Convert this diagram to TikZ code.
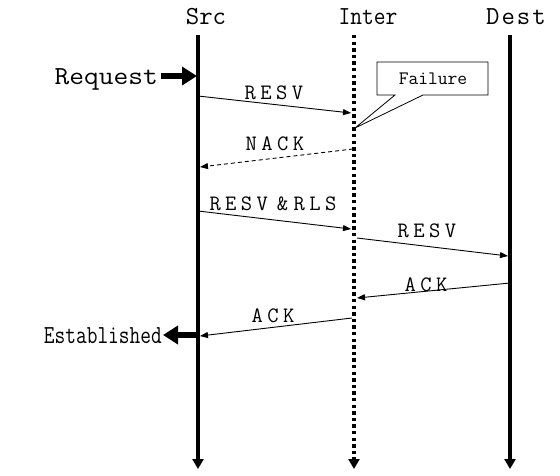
\documentclass[tikz,border=0pt]{standalone}
\usepackage{fontspec}
\usetikzlibrary{arrows.meta}
% small extra space between the letters of message names
\newcommand\lgap{\hspace{0.2em}}
\begin{document}
\begin{tikzpicture}[x=1pt,y=-1pt,
  lifeline/.style={line width=3.5pt,-{Triangle[length=10pt,width=11pt]}},
  dotline/.style={lifeline,dash pattern=on 3.3pt off 3.3pt},
  msg/.style={line width=0.9pt,-{Triangle[length=8pt,width=6pt]}},
  nackmsg/.style={msg,dash pattern=on 4pt off 3pt},
  bigarrow/.style={line width=6.5pt,-{Triangle[length=15pt,width=18pt]}},
  title/.style={anchor=base,inner sep=0pt,font=\ttfamily\fontsize{26}{26}\selectfont},
  msglabel/.style={anchor=base,inner sep=0pt,font=\ttfamily\fontsize{22}{22}\selectfont},
  event/.style={anchor=base east,inner sep=0pt,font=\ttfamily\fontsize{26}{26}\selectfont},
  note/.style={inner sep=0pt,font=\ttfamily\fontsize{19}{19}\selectfont}]
\useasboundingbox (0,0) rectangle (560,475);

% lifeline heads and ends
\node[title] (src) at (206,24) {Src};
\node[title] (inter) at (368,24) {\scalebox{0.88}[1]{Inter}};
\node[title] (dest) at (516,24) {D\hspace{2pt}e\hspace{2pt}s\hspace{2pt}t};
\coordinate (srcTop) at (198,35);   \coordinate (srcEnd) at (198,469);
\coordinate (interTop) at (354,35); \coordinate (interEnd) at (354,469);
\coordinate (destTop) at (510,35);  \coordinate (destEnd) at (510,469);

\draw[lifeline] (srcTop) -- (srcEnd);
\draw[dotline] (interTop) -- (interEnd);
\draw[lifeline] (destTop) -- (destEnd);

% request and establishment events
\node[event] (request) at (158,84) {\scalebox{1.1}[1]{Request}};
\coordinate (reqFrom) at (161,76);
\coordinate (reqTo) at (197,76);
\draw[bigarrow] (reqFrom) -- (reqTo);

\node[event] (established) at (162,343) {\scalebox{0.8}[1]{Established}};
\coordinate (estFrom) at (199,335);
\coordinate (estTo) at (163,335);
\draw[bigarrow] (estFrom) -- (estTo);

% failure note
\draw[line width=0.8pt,fill=white]
  (377,62) -- (488,62) -- (488,95) -- (423,95) -- (355,128)
  -- (395,95) -- (377,95) -- cycle;
\node[note] (failure) at (433,79) {Failure};

% message endpoints
\coordinate (m1a) at (198,96);  \coordinate (m1b) at (351,113);
\coordinate (m2a) at (353,149); \coordinate (m2b) at (200,167);
\coordinate (m3a) at (198,211); \coordinate (m3b) at (351,229);
\coordinate (m4a) at (357,238); \coordinate (m4b) at (508,256);
\coordinate (m5a) at (510,283); \coordinate (m5b) at (357,298);
\coordinate (m6a) at (352,318); \coordinate (m6b) at (200,336);

\draw[msg] (m1a) -- (m1b);
\draw[nackmsg] (m2a) -- (m2b);
\draw[msg] (m3a) -- (m3b);
\draw[msg] (m4a) -- (m4b);
\draw[msg] (m5a) -- (m5b);
\draw[msg] (m6a) -- (m6b);

\node[msglabel] (l1) at (274,99) {R\lgap E\lgap S\lgap V};
\node[msglabel] (l2) at (275,150) {N\lgap A\lgap C\lgap K};
\node[msglabel] (l3) at (273,210) {R\lgap E\lgap S\lgap V\hspace{0.4em}\&\hspace{0.25em}R\lgap L\lgap S};
\node[msglabel] (l4) at (427,237) {R\lgap E\lgap S\lgap V};
\node[msglabel] (l5) at (426,291) {A\lgap C\lgap K};
\node[msglabel] (l6) at (273,322) {A\lgap C\lgap K};
\end{tikzpicture}
\end{document}
